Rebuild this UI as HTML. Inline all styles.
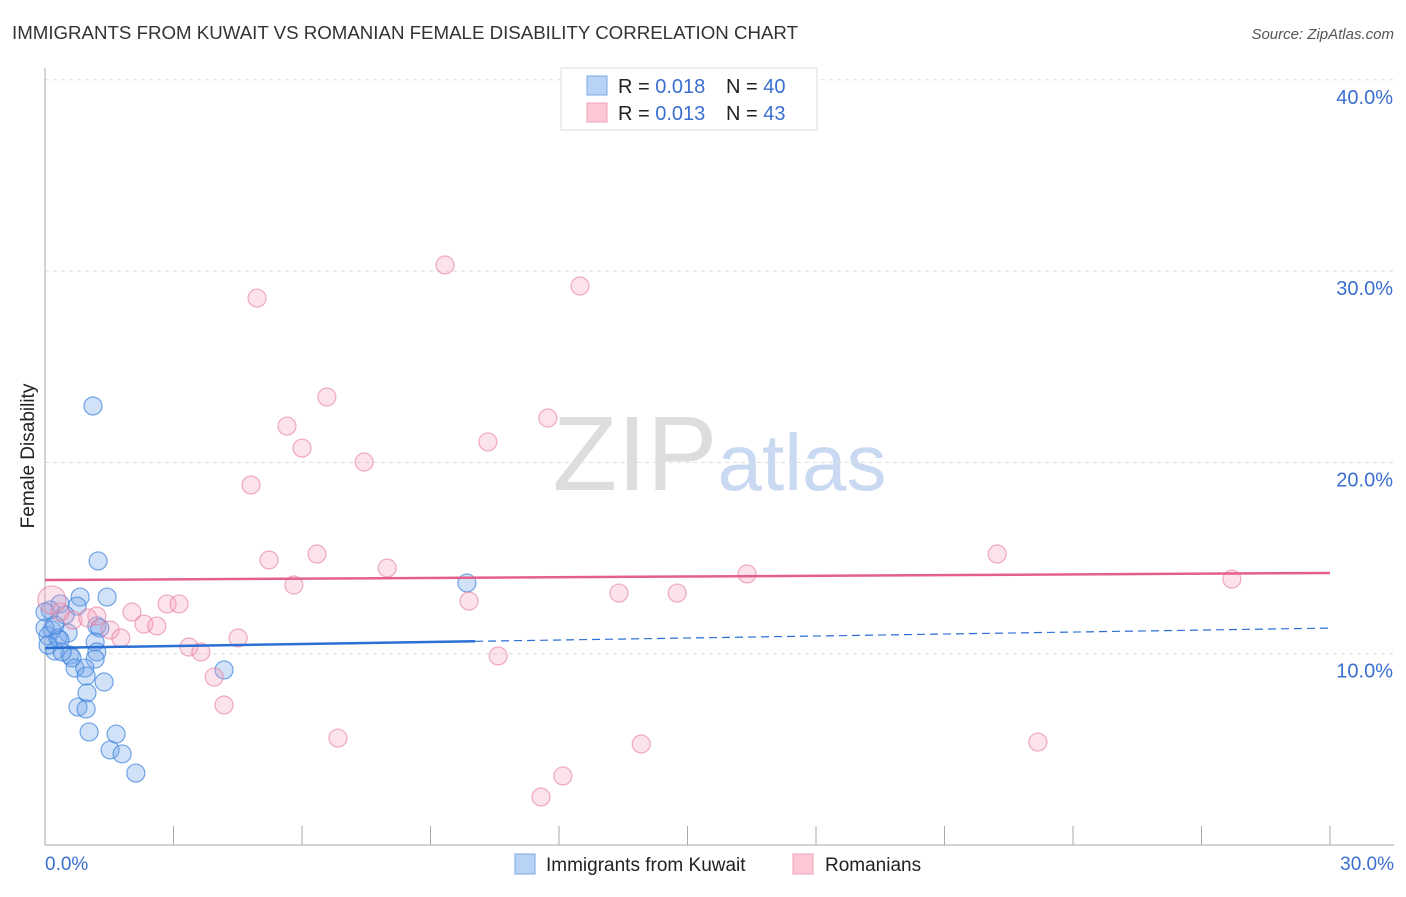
<!DOCTYPE html>
<html><head><meta charset="utf-8"><style>
body{margin:0;background:#fff;font-family:"Liberation Sans",sans-serif}
svg text{font-family:"Liberation Sans",sans-serif}
</style></head><body>
<svg id="c" width="1406" height="892" xmlns="http://www.w3.org/2000/svg">
<text x="12" y="39" font-size="18.7" fill="#333">IMMIGRANTS FROM KUWAIT VS ROMANIAN FEMALE DISABILITY CORRELATION CHART</text>
<text x="1394" y="39" font-size="15" fill="#555" font-style="italic" text-anchor="end">Source: ZipAtlas.com</text>
<text x="34" y="456" font-size="19" fill="#222" text-anchor="middle" transform="rotate(-90 34 456)">Female Disability</text>
<g><text x="635" y="490" font-size="106" fill="#ddd" font-family="Liberation Serif" text-anchor="middle">ZIP</text><text x="802" y="490" font-size="80" fill="#c9d9f2" text-anchor="middle">atlas</text></g>
<g id="grid"></g><g id="axes"></g><g id="marks"></g>
<g>
<rect x="561" y="68" width="256" height="62" fill="#fff" stroke="#ddd"/>
<rect x="587" y="76" width="20" height="19" fill="#b8d3f5" stroke="#7aa8e6"/>
<rect x="587" y="103" width="20" height="19" fill="#fcc8d6" stroke="#eea0b8"/>
<text x="618" y="93" font-size="20" fill="#222">R = <tspan fill="#3a6fd0">0.018</tspan></text>
<text x="726" y="93" font-size="20" fill="#222">N = <tspan fill="#3a6fd0">40</tspan></text>
<text x="618" y="120" font-size="20" fill="#222">R = <tspan fill="#3a6fd0">0.013</tspan></text>
<text x="726" y="120" font-size="20" fill="#222">N = <tspan fill="#3a6fd0"> 43</tspan></text>
</g>
<g>
<rect x="515" y="854" width="20" height="20" fill="#b8d3f5" stroke="#7aa8e6"/>
<text x="546" y="871" font-size="19" fill="#222">Immigrants from Kuwait</text>
<rect x="793" y="854" width="20" height="20" fill="#fcc8d6" stroke="#eea0b8"/>
<text x="825" y="871" font-size="19" fill="#222">Romanians</text>
</g>
</svg>
<script>
const yTicks=[10,20,30,40];
const yTickLabels=["10.0%","20.0%","30.0%","40.0%"];
const xTickLabels=["0.0%","30.0%"];
const kuwaitX=[1.12,1.24,9.85,0.82,1.45,0.75,0.35,0.12,0.47,1.21,1.28,0.16,0.54,0.07,0.30,1.17,0.23,0.58,0.63,1.21,1.17,0.70,0.93,0.96,4.18,1.38,0.98,0.77,0.96,1.66,1.03,1.52,1.80,2.12,0.0,0.0,0.35,0.40,0.23,0.07];
const kuwaitY=[22.95,14.85,13.70,12.96,12.96,12.49,12.60,12.28,12.02,11.45,11.34,11.24,11.08,10.93,10.82,10.61,10.14,9.93,9.78,10.09,9.72,9.25,9.25,8.83,9.15,8.52,7.95,7.21,7.11,5.80,5.91,4.97,4.76,3.76,12.18,11.34,10.72,10.09,11.50,10.45];
const romX=[9.34,12.49,4.95,6.58,5.65,11.74,6.00,10.34,7.45,4.81,22.23,6.35,5.23,7.99,16.39,5.81,27.71,9.90,13.40,14.76,2.85,3.13,2.03,1.21,2.31,2.61,0.65,0.35,1.52,1.77,4.51,3.36,3.64,10.58,3.95,4.18,6.84,13.92,23.18,12.09,11.58,0.16,1.00];
const romY=[30.32,29.22,28.59,23.42,21.90,22.32,20.75,21.07,20.02,18.82,15.21,15.21,14.90,14.48,14.17,13.59,13.90,12.75,13.17,13.17,12.60,12.60,12.18,11.97,11.55,11.45,11.76,12.18,11.24,10.82,10.82,10.35,10.09,9.88,8.78,7.32,5.59,5.28,5.38,3.61,2.51,12.81,11.87];
const romTrend=[13.85,14.22];
const kuwaitTrend=[10.30,11.34];
const kuwaitSolidEnd=10.04;
const NS="http://www.w3.org/2000/svg";
const sx=v=>45+v*42.833, sy=v=>845-v*19.13;
function mk(p,t,a){const e=document.createElementNS(NS,t);for(const k in a)e.setAttribute(k,a[k]);p.appendChild(e);return e;}
const grid=document.getElementById('grid'),axes=document.getElementById('axes'),marks=document.getElementById('marks');
yTicks.forEach((t,i)=>{
 const l=mk(grid,'line',{x1:45,x2:1394,y1:sy(t),y2:sy(t),stroke:'#ddd','stroke-dasharray':'4,4'});
 
 
 const tx=mk(axes,'text',{x:1393,y:sy(t)+24,'font-size':20,fill:'#3a6fd0','text-anchor':'end'});
 tx.textContent=yTickLabels[i];
 
 
});
let a=mk(axes,'line',{x1:45,x2:45,y1:68,y2:845,stroke:'#aaa'});


a=mk(axes,'line',{x1:45,x2:1394,y1:845,y2:845,stroke:'#aaa'});


for(let i=0;i<=10;i++){const x=sx(i*3);
 const t=mk(axes,'line',{x1:x,x2:x,y1:826,y2:845,stroke:'#aaa'});
 
 }
[[0,'start',45],[30,'end',1394]].forEach((d,i)=>{
 const tx=mk(axes,'text',{x:d[2],y:870,'font-size':19,fill:'#3a6fd0','text-anchor':d[1]});
 tx.textContent=xTickLabels[i];
 
 
});
kuwaitX.forEach((x,i)=>{
 const c=mk(marks,'circle',{cx:sx(x),cy:sy(kuwaitY[i]),r:9,fill:'rgba(120,170,235,0.35)',stroke:'rgba(60,130,220,0.7)','stroke-width':1.2});
 
 
});
romX.forEach((x,i)=>{
 const c=mk(marks,'circle',{cx:sx(x),cy:sy(romY[i]),r:i==41?14:9,fill:'rgba(245,160,185,0.3)',stroke:'rgba(230,120,155,0.6)','stroke-width':1.2});
 
 
});
let t=mk(marks,'line',{x1:sx(0),y1:sy(romTrend[0]),x2:sx(30),y2:sy(romTrend[1]),stroke:'#e4608a','stroke-width':2.5});


const ky=x=>kuwaitTrend[0]+(kuwaitTrend[1]-kuwaitTrend[0])*x/30;
t=mk(marks,'line',{x1:sx(0),y1:sy(ky(0)),x2:sx(kuwaitSolidEnd),y2:sy(ky(kuwaitSolidEnd)),stroke:'#2a6fd4','stroke-width':2.5});


t=mk(marks,'line',{x1:sx(kuwaitSolidEnd),y1:sy(ky(kuwaitSolidEnd)),x2:sx(30),y2:sy(ky(30)),stroke:'#2a6fd4','stroke-width':1.2,'stroke-dasharray':'8,5'});


</script>
</body></html>
